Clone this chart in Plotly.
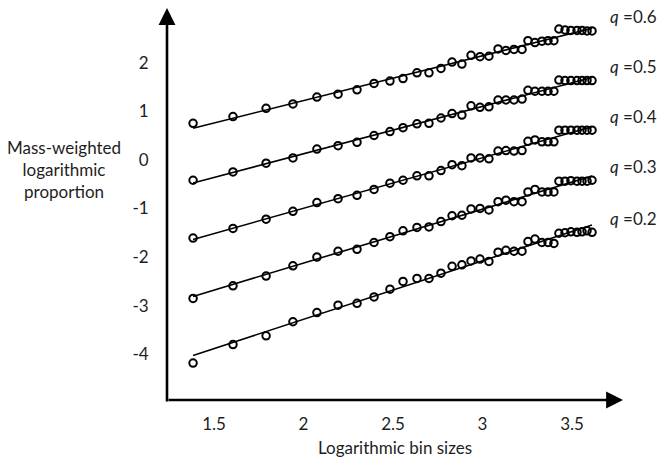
import numpy as np
import plotly.graph_objects as go

bin_sizes = [1.383, 1.606, 1.791, 1.941, 2.075, 2.193, 2.299, 2.394, 2.483, 2.556,
             2.634, 2.701, 2.768, 2.830, 2.885, 2.936, 2.986, 3.036, 3.087, 3.131,
             3.176, 3.221, 3.254, 3.293, 3.332, 3.366, 3.399, 3.427, 3.461, 3.494,
             3.528, 3.556, 3.584, 3.612]

q_06 = [0.75, 0.89, 1.06, 1.15, 1.29, 1.35, 1.44, 1.57, 1.62, 1.67,
        1.79, 1.79, 1.88, 2.01, 1.97, 2.15, 2.12, 2.13, 2.28, 2.25,
        2.27, 2.27, 2.45, 2.41, 2.44, 2.45, 2.45, 2.69, 2.67, 2.66,
        2.66, 2.66, 2.65, 2.65]
q_05 = [-0.42, -0.25, -0.07, 0.04, 0.22, 0.29, 0.36, 0.50, 0.58, 0.66,
        0.74, 0.75, 0.86, 0.95, 0.92, 1.11, 1.08, 1.09, 1.23, 1.23,
        1.23, 1.25, 1.43, 1.41, 1.41, 1.41, 1.41, 1.64, 1.63, 1.63,
        1.63, 1.63, 1.63, 1.63]
q_04 = [-1.61, -1.41, -1.22, -1.06, -0.88, -0.80, -0.73, -0.61, -0.48, -0.42,
        -0.33, -0.33, -0.22, -0.10, -0.12, 0.04, 0.04, 0.02, 0.18, 0.19,
        0.18, 0.19, 0.38, 0.41, 0.37, 0.37, 0.37, 0.61, 0.61, 0.61,
        0.61, 0.61, 0.61, 0.61]
q_03 = [-2.85, -2.59, -2.39, -2.18, -2.00, -1.88, -1.84, -1.70, -1.58, -1.46,
        -1.39, -1.38, -1.27, -1.15, -1.14, -1.01, -1.00, -1.03, -0.86, -0.83,
        -0.86, -0.86, -0.66, -0.61, -0.66, -0.66, -0.66, -0.44, -0.44, -0.43,
        -0.44, -0.44, -0.44, -0.42]
q_02 = [-4.18, -3.80, -3.62, -3.33, -3.14, -2.99, -2.95, -2.82, -2.66, -2.50,
        -2.44, -2.44, -2.33, -2.19, -2.16, -2.08, -2.04, -2.09, -1.90, -1.86,
        -1.88, -1.88, -1.68, -1.63, -1.70, -1.70, -1.72, -1.51, -1.50, -1.48,
        -1.49, -1.48, -1.46, -1.49]

q_labels = ["0.6", "0.5", "0.4", "0.3", "0.2"]
series = [q_06, q_05, q_04, q_03, q_02]

x_ticks = [1.5, 2, 2.5, 3, 3.5]
x_tick_text = ["1.5", "2", "2.5", "3", "3.5"]
y_ticks = [-4, -3, -2, -1, 0, 1, 2]
y_tick_text = ["-4", "-3", "-2", "-1", "0", "1", "2"]

FONT = "Lato"
TXT = "#1e1e1e"
FS = 17
fig = go.Figure()
xs = np.array(bin_sizes)
for vals in series:
    ys = np.array(vals)
    slope, icpt = np.polyfit(xs, ys, 1)
    xl = np.array([xs.min(), xs.max()])
    fig.add_trace(go.Scatter(x=xl, y=slope * xl + icpt, mode="lines",
                             line=dict(color="black", width=1.6),
                             showlegend=False, hoverinfo="skip"))
    fig.add_trace(go.Scatter(x=xs, y=ys, mode="markers",
                             marker=dict(symbol="circle-open", size=7.5, color="black",
                                         line=dict(width=2, color="black")),
                             showlegend=False))

annotations = []
for lab, vals in zip(q_labels, series):
    annotations.append(dict(x=3.70, y=vals[-1], xref="x", yref="y", xanchor="left",
                            yanchor="middle", yshift=14, showarrow=False,
                            text="<i>q</i> =" + lab,
                            font=dict(family=FONT, size=FS, color=TXT)))

# axis arrows
annotations.append(dict(x=1, y=0, xref="paper", yref="paper", ax=-456, ay=0,
                        text="", showarrow=True, arrowhead=2, arrowsize=1.3,
                        arrowwidth=2.6, arrowcolor="black", standoff=0))
annotations.append(dict(x=0, y=1, xref="paper", yref="paper", ax=0, ay=395,
                        text="", showarrow=True, arrowhead=2, arrowsize=1.3,
                        arrowwidth=2.6, arrowcolor="black", standoff=0))
annotations.append(dict(x=(64 - 167) / 456, y=(403 - 171) / 395, xref="paper", yref="paper",
                        text="Mass-weighted<br>logarithmic<br>proportion", showarrow=False,
                        xanchor="center", yanchor="middle", align="center",
                        font=dict(family=FONT, size=FS, color=TXT)))

fig.update_layout(
    width=663, height=462,
    margin=dict(l=167, r=40, t=8, b=59),
    paper_bgcolor="white", plot_bgcolor="white",
    font=dict(family=FONT, size=FS, color=TXT),
    annotations=annotations,
    xaxis=dict(range=[1.2374, 3.785], tickvals=x_ticks, ticktext=x_tick_text,
               showgrid=False, zeroline=False, showline=False,
               ticks="outside", ticklen=9, tickcolor="rgba(0,0,0,0)",
               title=dict(text="Logarithmic bin sizes", standoff=8,
                          font=dict(family=FONT, size=FS, color=TXT))),
    yaxis=dict(range=[-4.939, 3.122], tickvals=y_ticks, ticktext=y_tick_text,
               showgrid=False, zeroline=False, showline=False,
               ticks="outside", ticklen=14, tickcolor="rgba(0,0,0,0)"),
)

fig.write_html("out.html", config={"displayModeBar": False},
               post_script="document.body.style.margin='0px';document.body.style.overflow='hidden';")
